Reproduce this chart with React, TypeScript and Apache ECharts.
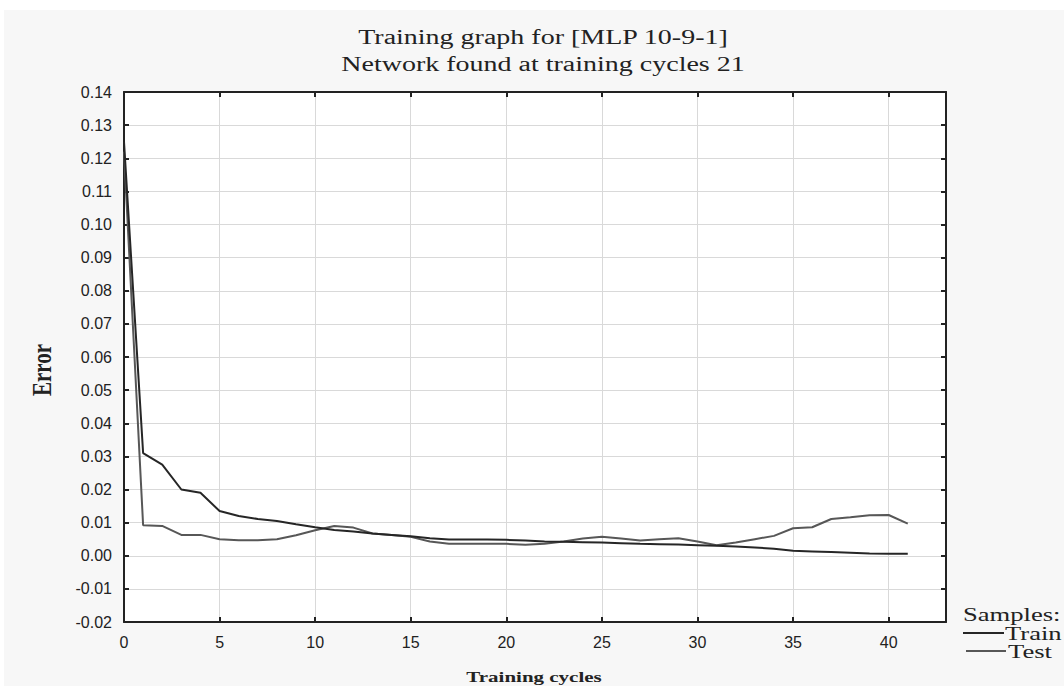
import React, { useEffect, useRef } from "react";
import * as echarts from "echarts";

const cycles = [0,1,2,3,4,5,6,7,8,9,10,11,12,13,14,15,16,17,18,19,20,21,22,23,24,25,26,27,28,29,30,31,32,33,34,35,36,37,38,39,40,41];
const trainError = [0.125,0.031,0.0275,0.020,0.019,0.0135,0.012,0.0111,0.0105,0.0095,0.0086,0.0078,0.0073,0.0067,0.0063,0.0059,0.0053,0.0049,0.0049,0.0049,0.0048,0.0046,0.0043,0.0042,0.0041,0.0040,0.0038,0.0036,0.0035,0.0034,0.0032,0.0030,0.0028,0.0025,0.0021,0.0015,0.0013,0.0011,0.0009,0.0007,0.0006,0.0006];
const testError = [0.122,0.0092,0.0090,0.0063,0.0063,0.0050,0.0047,0.0047,0.0050,0.0062,0.0077,0.0090,0.0085,0.0067,0.0063,0.0057,0.0043,0.0036,0.0036,0.0036,0.0036,0.0033,0.0036,0.0043,0.0052,0.0057,0.0052,0.0046,0.0050,0.0053,0.0043,0.0032,0.0040,0.0050,0.0060,0.0083,0.0086,0.0111,0.0116,0.0122,0.0123,0.0097];

const titleLines = ["Training graph for [MLP 10-9-1]", "Network found at training cycles 21"];
const xName = "Training cycles";
const yName = "Error";
const legendTitle = "Samples:";
const seriesNames = ["Train", "Test"];

export default function App() {
  const ref = useRef<HTMLDivElement>(null);
  useEffect(() => {
    if (!ref.current) return;
    const chart = echarts.init(ref.current, undefined, { renderer: "svg" });
    const trainColor = "#262626";
    const testColor = "#575757";
    const axisColor = "#222";
    const gridColor = "#d9d9d9";
    const sans = "'Liberation Sans', Arial, sans-serif";
    const serif = "'Liberation Serif', 'Times New Roman', serif";
    const plotLeft = 124, plotTop = 92, plotW = 822, plotH = 530;
    const stretch = 1.4;
    chart.setOption({
      animation: false,
      backgroundColor: "#ffffff",
      grid: { left: plotLeft, top: plotTop, width: plotW, height: plotH, show: true, backgroundColor: "#ffffff", borderWidth: 0 },
      xAxis: [
        {
          type: "value", min: 0, max: 43, interval: 5, position: "bottom",
          axisLine: { show: true, onZero: false, lineStyle: { color: axisColor, width: 2 } },
          axisTick: { show: true, inside: true, length: 5, lineStyle: { color: axisColor, width: 2 } },
          axisLabel: { show: true, showMaxLabel: false, margin: 12, fontFamily: sans, fontSize: 16, color: "#222",
            formatter: (v: number) => (v % 5 === 0 ? String(v) : "") },
          splitLine: { show: true, lineStyle: { color: gridColor, width: 1 } },
        },
        {
          type: "value", min: 0, max: 43, interval: 5, position: "top",
          axisLine: { show: true, onZero: false, lineStyle: { color: axisColor, width: 2 } },
          axisTick: { show: true, inside: true, length: 5, lineStyle: { color: axisColor, width: 2 } },
          axisLabel: { show: false },
          splitLine: { show: false },
        },
      ],
      yAxis: [
        {
          type: "value", min: -0.02, max: 0.14, interval: 0.01, position: "left",
          axisLine: { show: true, onZero: false, lineStyle: { color: axisColor, width: 2 } },
          axisTick: { show: true, inside: true, length: 5, lineStyle: { color: axisColor, width: 2 } },
          axisLabel: { show: true, margin: 12, fontFamily: sans, fontSize: 16, color: "#222",
            formatter: (v: number) => v.toFixed(2) },
          splitLine: { show: true, lineStyle: { color: gridColor, width: 1 } },
        },
        {
          type: "value", min: -0.02, max: 0.14, interval: 0.01, position: "right",
          axisLine: { show: true, onZero: false, lineStyle: { color: axisColor, width: 2 } },
          axisTick: { show: true, inside: true, length: 5, lineStyle: { color: axisColor, width: 2 } },
          axisLabel: { show: false },
          splitLine: { show: false },
        },
      ],
      series: [
        {
          name: seriesNames[0], type: "line", xAxisIndex: 0, yAxisIndex: 0, showSymbol: false, z: 3,
          data: cycles.map((c, i) => [c, trainError[i]]),
          lineStyle: { color: trainColor, width: 2 }, itemStyle: { color: trainColor },
        },
        {
          name: seriesNames[1], type: "line", xAxisIndex: 0, yAxisIndex: 0, showSymbol: false, z: 2,
          data: cycles.map((c, i) => [c, testError[i]]),
          lineStyle: { color: testColor, width: 2 }, itemStyle: { color: testColor },
        },
      ],
      graphic: [
        { type: "rect", z: -10, silent: true, shape: { x: 4, y: 10, width: 1060, height: 676 }, style: { fill: "#f7f7f7" } },
        { type: "text", x: 543, y: 37, scaleX: stretch, style: { text: titleLines[0], fontFamily: serif, fontSize: 20, fill: "#222", align: "center", verticalAlign: "middle" } },
        { type: "text", x: 543, y: 64, scaleX: stretch, style: { text: titleLines[1], fontFamily: serif, fontSize: 20, fill: "#222", align: "center", verticalAlign: "middle" } },
        { type: "text", x: 41, y: 370, rotation: Math.PI / 2, scaleY: 1.3, style: { text: yName, fontFamily: serif, fontSize: 21, fontWeight: "bold", fill: "#222", align: "center", verticalAlign: "middle" } },
        { type: "text", x: 534, y: 677, scaleX: stretch, style: { text: xName, fontFamily: serif, fontSize: 15, fontWeight: "bold", fill: "#222", align: "center", verticalAlign: "middle" } },
        { type: "text", x: 963, y: 614, scaleX: stretch, style: { text: legendTitle, fontFamily: serif, fontSize: 19, fill: "#222", align: "left", verticalAlign: "middle" } },
        { type: "line", shape: { x1: 963, y1: 633, x2: 1004, y2: 633 }, style: { stroke: trainColor, lineWidth: 2 } },
        { type: "text", x: 1005, y: 633, scaleX: stretch, style: { text: seriesNames[0], fontFamily: serif, fontSize: 19, fill: "#222", align: "left", verticalAlign: "middle" } },
        { type: "line", shape: { x1: 966, y1: 651, x2: 1006, y2: 651 }, style: { stroke: testColor, lineWidth: 2 } },
        { type: "text", x: 1008, y: 651, scaleX: stretch, style: { text: seriesNames[1], fontFamily: serif, fontSize: 19, fill: "#222", align: "left", verticalAlign: "middle" } },
      ],
    });
    return () => chart.dispose();
  }, []);
  return <div ref={ref} style={{ position: "fixed", left: 0, top: 0, width: 1064, height: 688 }} />;
}
